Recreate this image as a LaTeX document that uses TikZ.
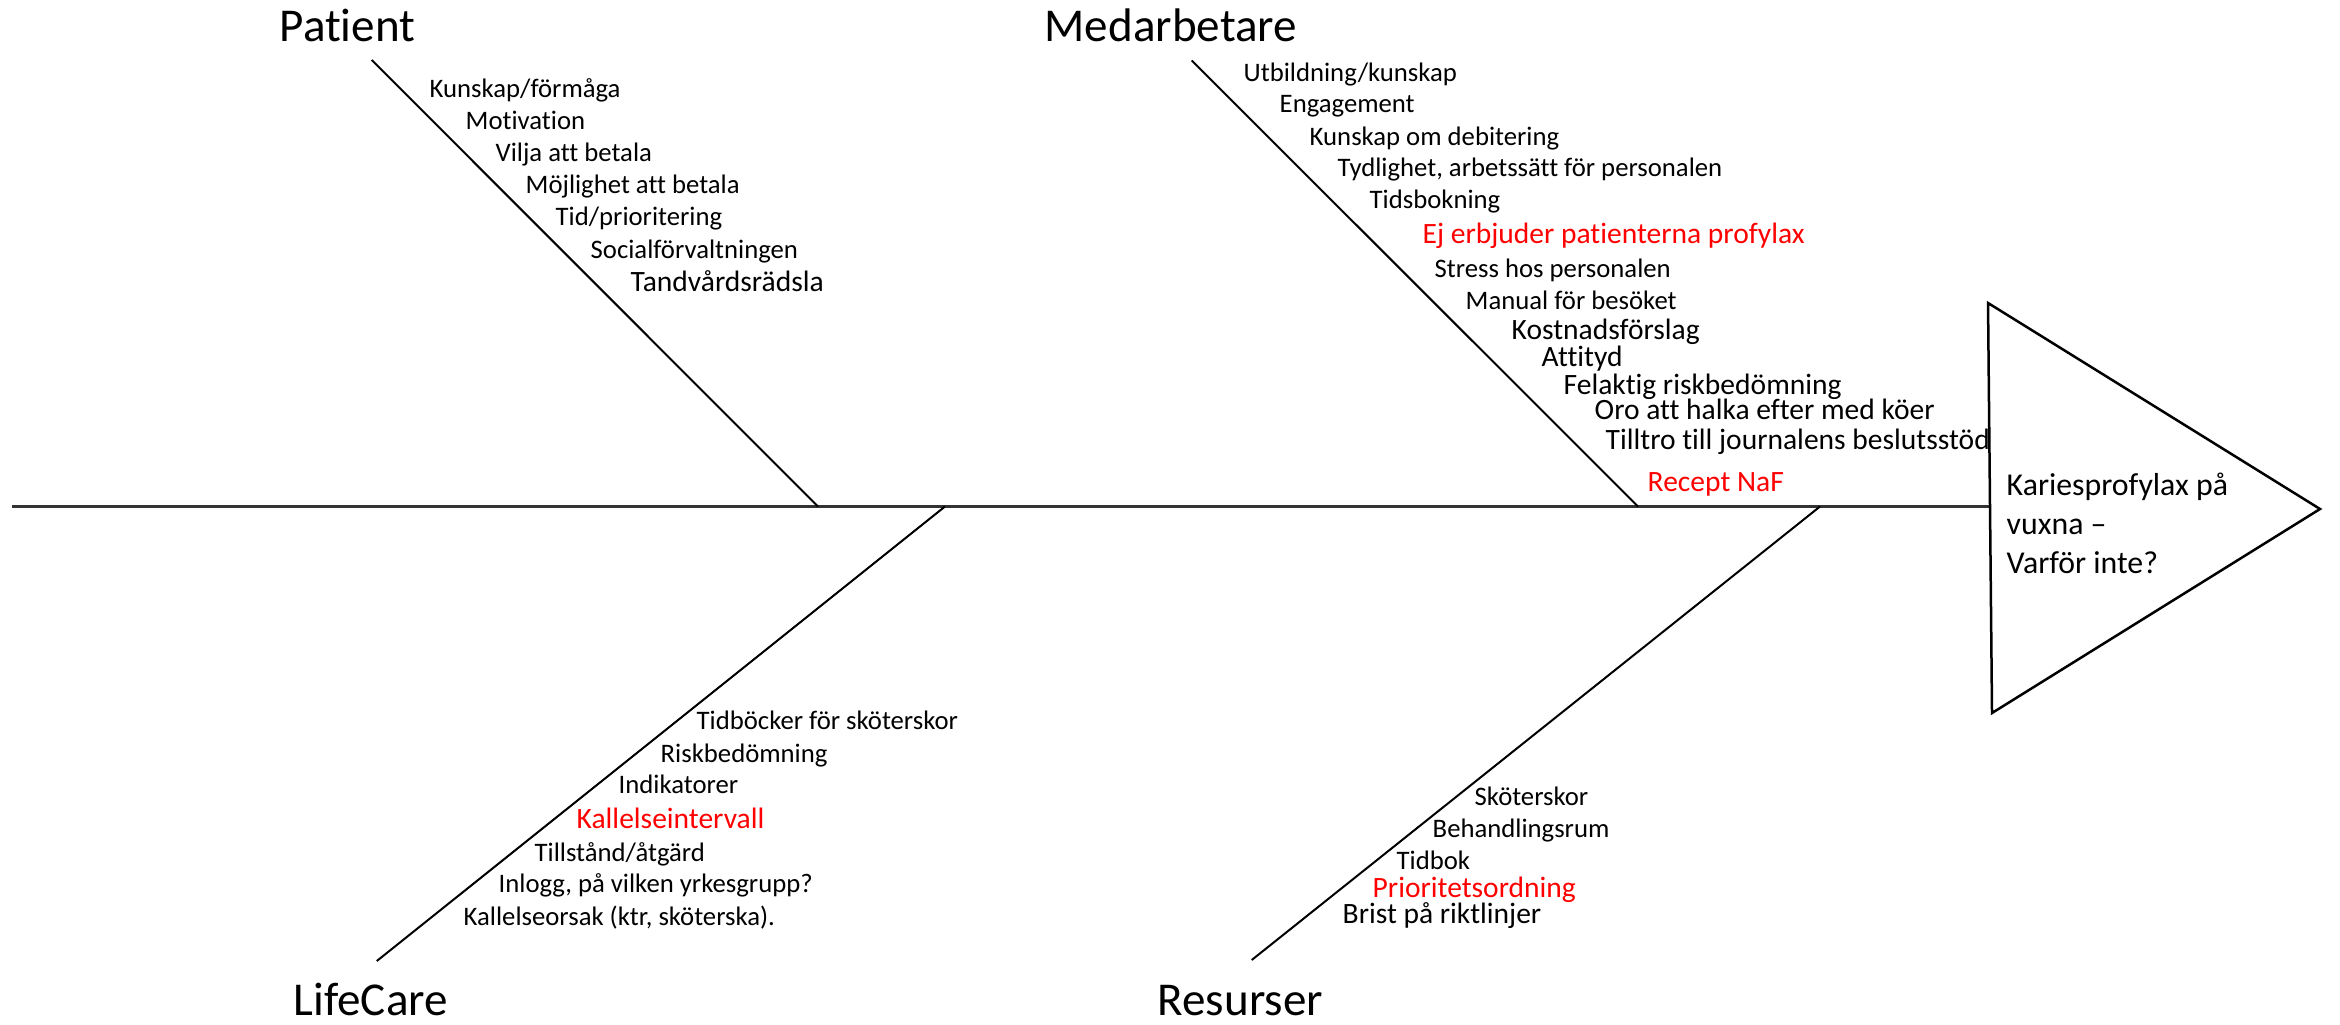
\documentclass[tikz,border=0pt]{standalone}
\usepackage{fontspec}
\setmainfont{Carlito}[Ligatures=NoCommon]
\begin{document}
\begin{tikzpicture}[x=0.1mm,y=-0.1mm,
  bone/.style={line width=0.2mm, black},
  spineline/.style={line width=0.25mm, black!80},
  headshape/.style={line width=0.25mm, black, line join=miter},
  itemS/.style={anchor=base west, inner sep=0pt, font=\fontsize{7.6}{9}\selectfont},
  itemL/.style={anchor=base west, inner sep=0pt, font=\fontsize{8.4}{10}\selectfont},
  redtxt/.style={text=red},
  cattitle/.style={anchor=base west, inner sep=0pt, font=\fontsize{13.4}{16}\selectfont},
  headtxt/.style={anchor=base west, inner sep=0pt, font=\fontsize{9.05}{11}\selectfont}]
\useasboundingbox (0,0) rectangle (2340,1024);
\fill[white] (0,0) rectangle (2340,1024);

% coordinates
\coordinate (spineL) at (12,506.5);
\coordinate (triTop) at (1988,303);
\coordinate (triTip) at (2320,509);
\coordinate (triBot) at (1992,713);
\coordinate (spineR) at (1990,506.5);

\coordinate (pTop) at (371.7,60);
\coordinate (pBot) at (818,506.5);
\coordinate (mTop) at (1191.7,60.5);
\coordinate (mBot) at (1638,506.5);
\coordinate (lTop) at (945,506.5);
\coordinate (lBot) at (376.8,961);
\coordinate (rTop) at (1820,506.5);
\coordinate (rBot) at (1251.7,960);

% spine and head
\draw[spineline] (spineL) -- (spineR);
\draw[headshape] (triTop) -- (triTip) -- (triBot) -- cycle;

% bones
\draw[bone] (pTop) -- (pBot);
\draw[bone] (mTop) -- (mBot);
\draw[bone] (lTop) -- (lBot);
\draw[bone] (rTop) -- (rBot);

% head text
\node[headtxt] (h1) at (2006,495) {Kariesprofylax på};
\node[headtxt] (h2) at (2006,534) {vuxna –};
\node[headtxt] (h3) at (2006,573) {Varför inte?};

% category titles
\node[cattitle] (tPatient) at (279,42) {Patient};
\node[cattitle] (tMed) at (1044,42) {Medarbetare};
\node[cattitle] (tLife) at (293,1015) {LifeCare};
\node[cattitle] (tRes) at (1157,1015) {Resurser};

% Patient items
\node[itemS] (p1) at (429,98) {Kunskap/förmåga};
\node[itemS] (p2) at (465,130) {Motivation};
\node[itemS] (p3) at (495,162) {Vilja att betala};
\node[itemS] (p4) at (525,194) {Möjlighet att betala};
\node[itemS] (p5) at (555,226) {Tid/prioritering};
\node[itemS] (p6) at (590,258) {Socialförvaltningen};
\node[itemL] (p7) at (630,291) {Tandvårdsrädsla};

% Medarbetare items
\node[itemS] (m1) at (1243,82) {Utbildning/kunskap};
\node[itemS] (m2) at (1279,113) {Engagement};
\node[itemS] (m3) at (1309,146) {Kunskap om debitering};
\node[itemS] (m4) at (1337,177) {Tydlighet, arbetssätt för personalen};
\node[itemS] (m5) at (1369,209) {Tidsbokning};
\node[itemL,redtxt] (m6) at (1422,243) {Ej erbjuder patienterna profylax};
\node[itemS] (m7) at (1434,277) {Stress hos personalen};
\node[itemS] (m8) at (1465,309) {Manual för besöket};
\node[itemL] (m9) at (1511,339) {Kostnadsförslag};
\node[itemL] (m10) at (1541,366) {Attityd};
\node[itemL] (m11) at (1563,394) {Felaktig riskbedömning};
\node[itemL] (m12) at (1594,419) {Oro att halka efter med köer};
\node[itemL] (m13) at (1605,449) {Tilltro till journalens beslutsstöd};
\node[itemL,redtxt] (m14) at (1647,491) {Recept NaF};

% LifeCare items
\node[itemS] (l1) at (696,729) {Tidböcker för sköterskor};
\node[itemS] (l2) at (660,762) {Riskbedömning};
\node[itemS] (l3) at (618,793) {Indikatorer};
\node[itemL,redtxt] (l4) at (576,828) {Kallelseintervall};
\node[itemS] (l5) at (534,861) {Tillstånd/åtgärd};
\node[itemS] (l6) at (498,892) {Inlogg, på vilken yrkesgrupp?};
\node[itemS] (l7) at (463,925) {Kallelseorsak (ktr, sköterska).};

% Resurser items
\node[itemS] (r1) at (1474,805) {Sköterskor};
\node[itemS] (r2) at (1432,837) {Behandlingsrum};
\node[itemS] (r3) at (1396,869) {Tidbok};
\node[itemL,redtxt] (r4) at (1372,897) {Prioritetsordning};
\node[itemL] (r5) at (1342,923) {Brist på riktlinjer};
\end{tikzpicture}
\end{document}
